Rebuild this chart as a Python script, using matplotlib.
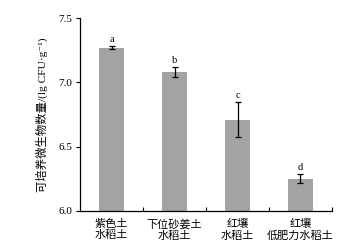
import matplotlib.pyplot as plt
import numpy as np

plt.rcParams['font.family'] = ['Liberation Serif', 'Noto Sans CJK SC', 'DejaVu Serif']

soils = ['紫色土\n水稻土', '下位砂姜土\n水稻土', '红壤\n水稻土', '红壤\n低肥力水稻土']
counts = [7.27, 7.08, 6.71, 6.25]
errs = [0.012, 0.04, 0.135, 0.035]
letters = ['a', 'b', 'c', 'd']

fig = plt.figure(figsize=(3.55, 2.47), dpi=100)
ax = fig.add_axes([0.226, 0.146, 0.709, 0.781])

x = np.arange(len(soils))
ax.bar(x, counts, width=0.4, color='#a3a3a5')
ax.errorbar(x, counts, yerr=errs, fmt='none', ecolor='black', elinewidth=0.9,
            capsize=2.5, capthick=0.9)
for xi, v, e, l in zip(x, counts, errs, letters):
    ax.annotate(l, (xi, v + e), xytext=(0, 1.5), textcoords='offset points',
                ha='center', va='bottom', fontsize=7.5)

ax.set_ylim(6.0, 7.5)
ax.set_xlim(-0.5, 3.5)
ax.set_yticks([6.0, 6.5, 7.0, 7.5])
ax.set_yticklabels(['6.0', '6.5', '7.0', '7.5'], fontsize=8)
ax.set_xticks([0.5, 1.5, 2.5, 3.5])
ax.set_xticklabels([])
ax.set_xticks(x, minor=True)
ax.set_xticklabels(soils, minor=True, fontsize=8, linespacing=1.1)
ax.tick_params(axis='x', which='major', direction='in', length=3, width=0.8)
ax.tick_params(axis='x', which='minor', length=0, pad=6)
ax.tick_params(axis='y', direction='out', length=3, width=0.8, pad=3)
ax.set_ylabel('可培养微生物数量/(lg CFU·g⁻¹)', fontsize=8.2, labelpad=7)

ax.spines['top'].set_visible(False)
ax.spines['right'].set_visible(False)
ax.spines['left'].set_linewidth(0.9)
ax.spines['bottom'].set_linewidth(0.9)

fig.savefig('out.png', dpi=100)
